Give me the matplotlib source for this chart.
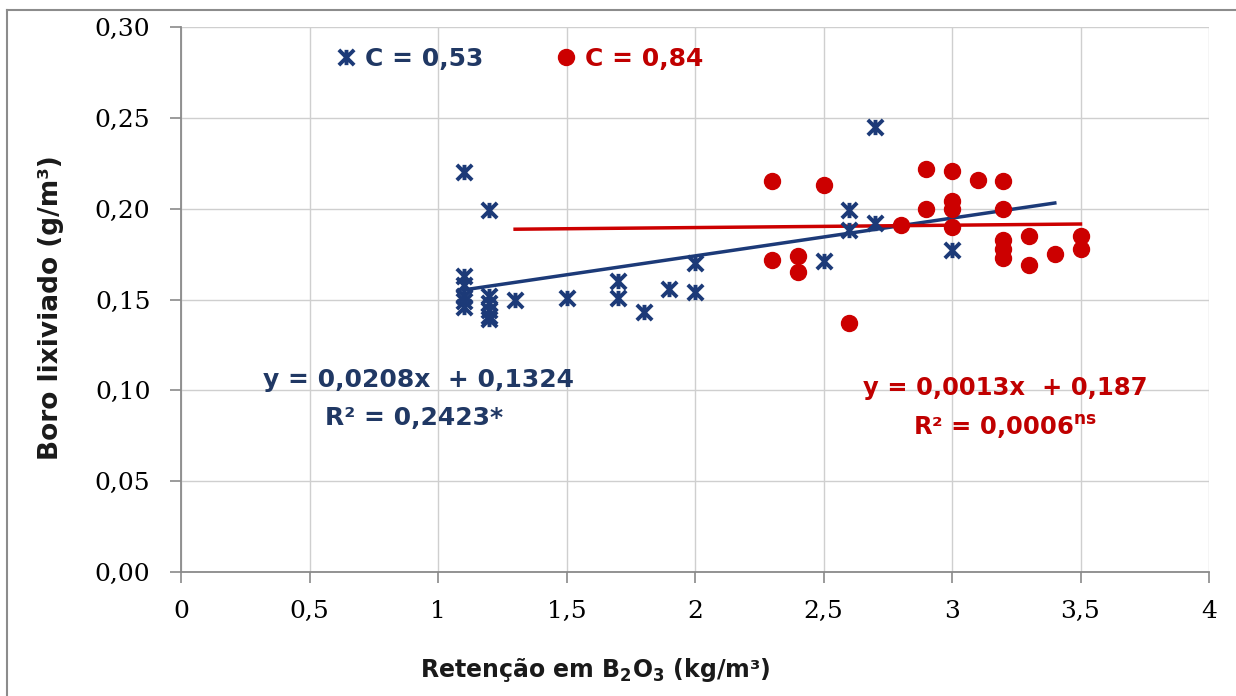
import matplotlib
matplotlib.use("Agg")
import matplotlib.pyplot as plt
from matplotlib.path import Path
from matplotlib.lines import Line2D
import numpy as np

# ---- data ----
blue_x = [1.1, 1.1, 1.1, 1.1, 1.1, 1.1, 1.2, 1.2, 1.2, 1.2, 1.2, 1.2, 1.3, 1.5,
          1.7, 1.7, 1.8, 1.9, 2.0, 2.0, 2.5, 2.6, 2.6, 2.7, 2.7, 3.0]
blue_y = [0.220, 0.163, 0.158, 0.152, 0.149, 0.146, 0.199, 0.152, 0.148, 0.144, 0.141, 0.139,
          0.150, 0.151, 0.160, 0.151, 0.143, 0.156, 0.170, 0.154, 0.171, 0.199, 0.188,
          0.245, 0.192, 0.177]
red_x = [2.3, 2.3, 2.4, 2.4, 2.5, 2.6, 2.8, 2.9, 2.9, 3.0, 3.0, 3.0, 3.0, 3.1,
         3.2, 3.2, 3.2, 3.2, 3.2, 3.3, 3.3, 3.4, 3.5, 3.5]
red_y = [0.215, 0.172, 0.174, 0.165, 0.213, 0.137, 0.191, 0.222, 0.200, 0.221, 0.204,
         0.200, 0.190, 0.216, 0.215, 0.200, 0.183, 0.178, 0.173, 0.185, 0.169, 0.175,
         0.185, 0.178]

blue_coef = (0.0208, 0.1324)
red_coef = (0.0013, 0.187)
blue_trend_range = [1.1, 3.4]
red_trend_range = [1.3, 3.5]

series_labels = ["C = 0,53", "C = 0,84"]
blue_eq = ["y = 0,0208x  + 0,1324", "R² = 0,2423*"]
red_eq = ["y = 0,0013x  + 0,187", r"R² = 0,0006$^{\mathregular{ns}}$"]

xticks = [0, 0.5, 1, 1.5, 2, 2.5, 3, 3.5, 4]
xtick_labels = ["0", "0,5", "1", "1,5", "2", "2,5", "3", "3,5", "4"]
yticks = [0.00, 0.05, 0.10, 0.15, 0.20, 0.25, 0.30]
ytick_labels = ["0,00", "0,05", "0,10", "0,15", "0,20", "0,25", "0,30"]

# ---- style ----
BLUE = "#1c3a78"
BLUE_TXT = "#203864"
RED = "#CC0000"
RED_TXT = "#C00000"

plt.rcParams['font.family'] = ['DejaVu Sans']
plt.rcParams['mathtext.default'] = 'bf'

star = Path([(-1, -1), (1, 1), (-1, 1), (1, -1), (0, -1), (0, 1)],
            [Path.MOVETO, Path.LINETO, Path.MOVETO, Path.LINETO, Path.MOVETO, Path.LINETO])

fig = plt.figure(figsize=(12.36, 6.96), dpi=100)
ax = fig.add_axes([181/1236, 1 - 572/696, (1209-181)/1236, (572-27)/696])

ax.set_xlim(0, 4)
ax.set_ylim(0, 0.30)
ax.set_xticks(xticks)
ax.set_xticklabels(xtick_labels, family='DejaVu Serif', fontsize=18)
ax.set_yticks(yticks)
ax.set_yticklabels(ytick_labels, family='DejaVu Serif', fontsize=18)
ax.grid(True, color='#cfcfcf', lw=1.0)
ax.set_axisbelow(True)
for s in ['top', 'right']:
    ax.spines[s].set_visible(False)
for s in ['left', 'bottom']:
    ax.spines[s].set_color('#8a8a8a')
    ax.spines[s].set_linewidth(1.3)
ax.tick_params(axis='both', direction='out', length=8, width=1.2, color='#8a8a8a')
ax.tick_params(axis='y', pad=14)
ax.tick_params(axis='x', pad=12)

# trend lines
bx = np.array(blue_trend_range)
rx = np.array(red_trend_range)
ax.plot(bx, blue_coef[0]*bx + blue_coef[1], color=BLUE, lw=2.5, zorder=3)
ax.plot(rx, red_coef[0]*rx + red_coef[1], color=RED, lw=2.5, zorder=3)

# points
ax.plot(red_x, red_y, linestyle='none', marker='o', ms=11.5, mfc=RED, mec=RED,
        zorder=4, label=series_labels[1])
ax.plot(blue_x, blue_y, linestyle='none', marker=star, ms=11, mfc='none', mec=BLUE,
        mew=2.8, zorder=5, label=series_labels[0])

# legend
h_blue = Line2D([], [], linestyle='none', marker=star, ms=11, mec=BLUE, mew=2.8, mfc='none')
h_red = Line2D([], [], linestyle='none', marker='o', ms=11.5, mfc=RED, mec=RED)
leg = ax.legend([h_blue, h_red], series_labels, ncol=2, frameon=False,
                loc='center left', bbox_to_anchor=((334-181)/1028, (572-59)/545),
                borderpad=0, borderaxespad=0, handlelength=0.95, handletextpad=0.3,
                columnspacing=2.8, prop={'weight': 'bold', 'size': 18})
for t, c in zip(leg.get_texts(), [BLUE_TXT, RED_TXT]):
    t.set_color(c)

# equations
ax.text(0.318, 0.1057, blue_eq[0], color=BLUE_TXT, fontsize=18, fontweight='bold',
        ha='left', va='center')
ax.text(0.560, 0.0848, blue_eq[1], color=BLUE_TXT, fontsize=18, fontweight='bold',
        ha='left', va='center')
ax.text(2.654, 0.1013, red_eq[0], color=RED_TXT, fontsize=17.5, fontweight='bold',
        ha='left', va='center')
ax.text(2.848, 0.0798, red_eq[1], color=RED_TXT, fontsize=17.5, fontweight='bold',
        ha='left', va='center')

# axis titles
fig.text(51/1236, 1 - 308/696, "Boro lixiviado (g/m³)", rotation=90, fontsize=19,
         fontweight='bold', ha='center', va='center', color='#1a1a1a')
fig.text(595/1236, 1 - 670/696, "Retenção em B$_2$O$_3$ (kg/m³)", fontsize=17,
         fontweight='bold', ha='center', va='center', color='#1a1a1a')

# outer chart border (top and left)
fig.add_artist(Line2D([7/1236, 7/1236], [0, 1 - 10/696], transform=fig.transFigure,
                      color='#8c8c8c', lw=1.5))
fig.add_artist(Line2D([7/1236, 1], [1 - 10/696, 1 - 10/696], transform=fig.transFigure,
                      color='#8c8c8c', lw=1.5))

fig.savefig("out.png", dpi=100, facecolor='white')
